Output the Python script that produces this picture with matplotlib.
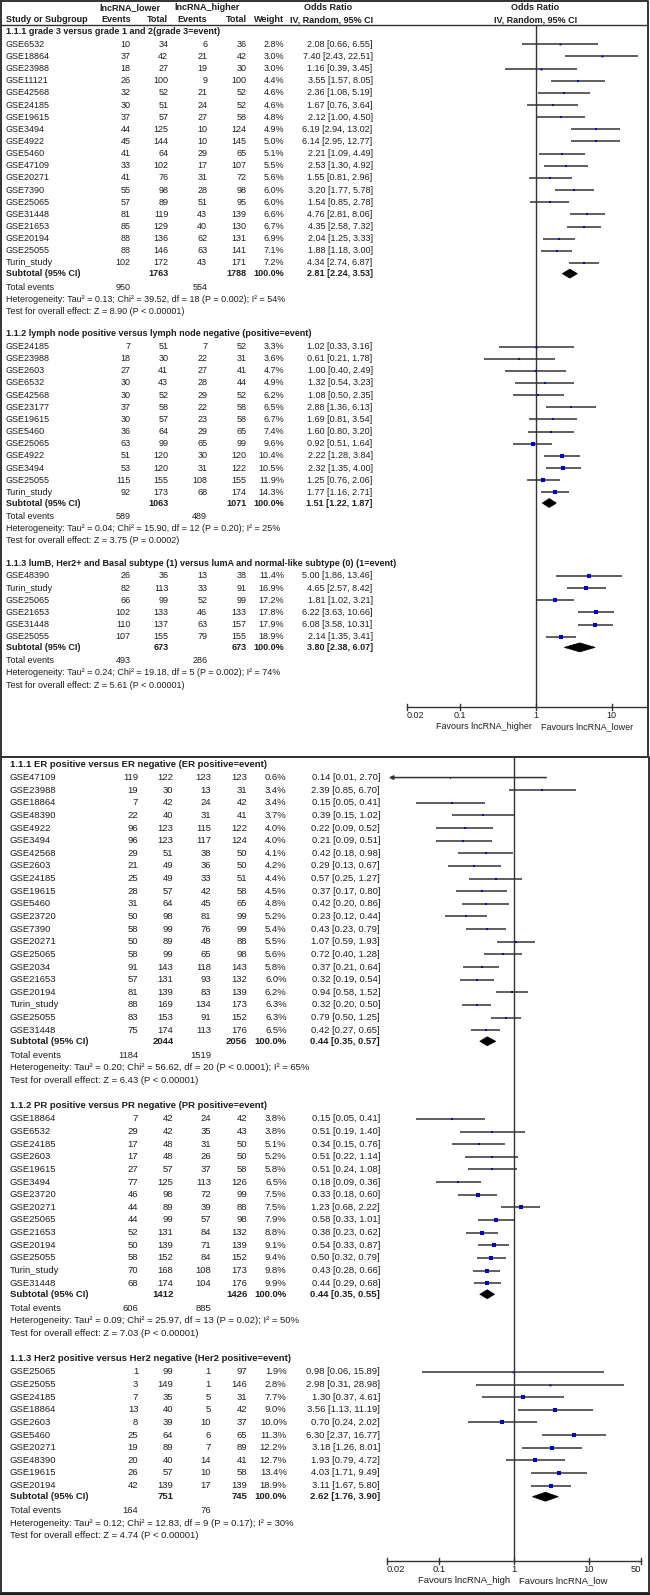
import numpy as np
import matplotlib.pyplot as plt
from matplotlib.patches import Polygon

plt.rcParams['font.family'] = ['Liberation Sans', 'DejaVu Sans']

# ---------------- data: upper panel ----------------
grade_head = "1.1.1 grade 3 versus grade 1 and 2(grade 3=event)"
grade_names = ["GSE6532", "GSE18864", "GSE23988", "GSE11121", "GSE42568", "GSE24185", "GSE19615", "GSE3494",
               "GSE4922", "GSE5460", "GSE47109", "GSE20271", "GSE7390", "GSE25065", "GSE31448", "GSE21653",
               "GSE20194", "GSE25055", "Turin_study"]
grade_ev_low = [10, 37, 18, 26, 32, 30, 37, 44, 45, 41, 33, 41, 55, 57, 81, 85, 88, 88, 102]
grade_tot_low = [34, 42, 27, 100, 52, 51, 57, 125, 144, 64, 102, 76, 98, 89, 119, 129, 136, 146, 172]
grade_ev_high = [6, 21, 19, 9, 21, 24, 27, 10, 10, 29, 17, 31, 28, 51, 43, 40, 62, 63, 43]
grade_tot_high = [36, 42, 30, 100, 52, 52, 58, 124, 145, 65, 107, 72, 98, 95, 139, 130, 131, 141, 171]
grade_weight = [2.8, 3.0, 3.0, 4.4, 4.6, 4.6, 4.8, 4.9, 5.0, 5.1, 5.5, 5.6, 6.0, 6.0, 6.6, 6.7, 6.9, 7.1, 7.2]
grade_or = [2.08, 7.40, 1.16, 3.55, 2.36, 1.67, 2.12, 6.19, 6.14, 2.21, 2.53, 1.55, 3.20, 1.54, 4.76, 4.35, 2.04, 1.88, 4.34]
grade_lo = [0.66, 2.43, 0.39, 1.57, 1.08, 0.76, 1.00, 2.94, 2.95, 1.09, 1.30, 0.81, 1.77, 0.85, 2.81, 2.58, 1.25, 1.18, 2.74]
grade_hi = [6.55, 22.51, 3.45, 8.05, 5.19, 3.64, 4.50, 13.02, 12.77, 4.49, 4.92, 2.96, 5.78, 2.78, 8.06, 7.32, 3.33, 3.00, 6.87]
grade_sub = [1763, 1788, 2.81, 2.24, 3.53]
grade_events = [950, 554]
grade_het = "Heterogeneity: Tau² = 0.13; Chi² = 39.52, df = 18 (P = 0.002); I² = 54%"
grade_test = "Test for overall effect: Z = 8.90 (P < 0.00001)"

lymph_head = "1.1.2 lymph node positive versus lymph node negative (positive=event)"
lymph_names = ["GSE24185", "GSE23988", "GSE2603", "GSE6532", "GSE42568", "GSE23177", "GSE19615", "GSE5460",
               "GSE25065", "GSE4922", "GSE3494", "GSE25055", "Turin_study"]
lymph_ev_low = [7, 18, 27, 30, 30, 37, 30, 36, 63, 51, 53, 115, 92]
lymph_tot_low = [51, 30, 41, 43, 52, 58, 57, 64, 99, 120, 120, 155, 173]
lymph_ev_high = [7, 22, 27, 28, 29, 22, 23, 29, 65, 30, 31, 108, 68]
lymph_tot_high = [52, 31, 41, 44, 52, 58, 58, 65, 99, 120, 122, 155, 174]
lymph_weight = [3.3, 3.6, 4.7, 4.9, 6.2, 6.5, 6.7, 7.4, 9.6, 10.4, 10.5, 11.9, 14.3]
lymph_or = [1.02, 0.61, 1.00, 1.32, 1.08, 2.88, 1.69, 1.60, 0.92, 2.22, 2.32, 1.25, 1.77]
lymph_lo = [0.33, 0.21, 0.40, 0.54, 0.50, 1.36, 0.81, 0.80, 0.51, 1.28, 1.35, 0.76, 1.16]
lymph_hi = [3.16, 1.78, 2.49, 3.23, 2.35, 6.13, 3.54, 3.20, 1.64, 3.84, 4.00, 2.06, 2.71]
lymph_sub = [1063, 1071, 1.51, 1.22, 1.87]
lymph_events = [589, 489]
lymph_het = "Heterogeneity: Tau² = 0.04; Chi² = 15.90, df = 12 (P = 0.20); I² = 25%"
lymph_test = "Test for overall effect: Z = 3.75 (P = 0.0002)"

subtype_head = "1.1.3 lumB, Her2+ and Basal subtype (1) versus lumA and normal-like subtype (0) (1=event)"
subtype_names = ["GSE48390", "Turin_study", "GSE25065", "GSE21653", "GSE31448", "GSE25055"]
subtype_ev_low = [26, 82, 66, 102, 110, 107]
subtype_tot_low = [36, 113, 99, 133, 137, 155]
subtype_ev_high = [13, 33, 52, 46, 63, 79]
subtype_tot_high = [38, 91, 99, 133, 157, 155]
subtype_weight = [11.4, 16.9, 17.2, 17.8, 17.9, 18.9]
subtype_or = [5.00, 4.65, 1.81, 6.22, 6.08, 2.14]
subtype_lo = [1.86, 2.57, 1.02, 3.63, 3.58, 1.35]
subtype_hi = [13.46, 8.42, 3.21, 10.66, 10.31, 3.41]
subtype_sub = [673, 673, 3.80, 2.38, 6.07]
subtype_events = [493, 286]
subtype_het = "Heterogeneity: Tau² = 0.24; Chi² = 19.18, df = 5 (P = 0.002); I² = 74%"
subtype_test = "Test for overall effect: Z = 5.61 (P < 0.00001)"

# ---------------- data: lower panel ----------------
er_head = "1.1.1 ER positive versus ER negative (ER positive=event)"
er_names = ["GSE47109", "GSE23988", "GSE18864", "GSE48390", "GSE4922", "GSE3494", "GSE42568", "GSE2603",
            "GSE24185", "GSE19615", "GSE5460", "GSE23720", "GSE7390", "GSE20271", "GSE25065", "GSE2034",
            "GSE21653", "GSE20194", "Turin_study", "GSE25055", "GSE31448"]
er_ev_low = [119, 19, 7, 22, 96, 96, 29, 21, 25, 28, 31, 50, 58, 50, 58, 91, 57, 81, 88, 83, 75]
er_tot_low = [122, 30, 42, 40, 123, 123, 51, 49, 49, 57, 64, 98, 99, 89, 99, 143, 131, 139, 169, 153, 174]
er_ev_high = [123, 13, 24, 31, 115, 117, 38, 36, 33, 42, 45, 81, 76, 48, 65, 118, 93, 83, 134, 91, 113]
er_tot_high = [123, 31, 42, 41, 122, 124, 50, 50, 51, 58, 65, 99, 99, 88, 98, 143, 132, 139, 173, 152, 176]
er_weight = [0.6, 3.4, 3.4, 3.7, 4.0, 4.0, 4.1, 4.2, 4.4, 4.5, 4.8, 5.2, 5.4, 5.5, 5.6, 5.8, 6.0, 6.2, 6.3, 6.3, 6.5]
er_or = [0.14, 2.39, 0.15, 0.39, 0.22, 0.21, 0.42, 0.29, 0.57, 0.37, 0.42, 0.23, 0.43, 1.07, 0.72, 0.37, 0.32,
         0.94, 0.32, 0.79, 0.42]
er_lo = [0.01, 0.85, 0.05, 0.15, 0.09, 0.09, 0.18, 0.13, 0.25, 0.17, 0.20, 0.12, 0.23, 0.59, 0.40, 0.21, 0.19,
         0.58, 0.20, 0.50, 0.27]
er_hi = [2.70, 6.70, 0.41, 1.02, 0.52, 0.51, 0.98, 0.67, 1.27, 0.80, 0.86, 0.44, 0.79, 1.93, 1.28, 0.64, 0.54,
         1.52, 0.50, 1.25, 0.65]
er_sub = [2044, 2056, 0.44, 0.35, 0.57]
er_events = [1184, 1519]
er_het = "Heterogeneity: Tau² = 0.20; Chi² = 56.62, df = 20 (P < 0.0001); I² = 65%"
er_test = "Test for overall effect: Z = 6.43 (P < 0.00001)"

pr_head = "1.1.2 PR positive versus PR negative (PR positive=event)"
pr_names = ["GSE18864", "GSE6532", "GSE24185", "GSE2603", "GSE19615", "GSE3494", "GSE23720", "GSE20271",
            "GSE25065", "GSE21653", "GSE20194", "GSE25055", "Turin_study", "GSE31448"]
pr_ev_low = [7, 29, 17, 17, 27, 77, 46, 44, 44, 52, 50, 58, 70, 68]
pr_tot_low = [42, 42, 48, 48, 57, 125, 98, 89, 99, 131, 139, 152, 168, 174]
pr_ev_high = [24, 35, 31, 26, 37, 113, 72, 39, 57, 84, 71, 84, 108, 104]
pr_tot_high = [42, 43, 50, 50, 58, 126, 99, 88, 98, 132, 139, 152, 173, 176]
pr_weight = [3.8, 3.8, 5.1, 5.2, 5.8, 6.5, 7.5, 7.5, 7.9, 8.8, 9.1, 9.4, 9.8, 9.9]
pr_or = [0.15, 0.51, 0.34, 0.51, 0.51, 0.18, 0.33, 1.23, 0.58, 0.38, 0.54, 0.50, 0.43, 0.44]
pr_lo = [0.05, 0.19, 0.15, 0.22, 0.24, 0.09, 0.18, 0.68, 0.33, 0.23, 0.33, 0.32, 0.28, 0.29]
pr_hi = [0.41, 1.40, 0.76, 1.14, 1.08, 0.36, 0.60, 2.22, 1.01, 0.62, 0.87, 0.79, 0.66, 0.68]
pr_sub = [1412, 1426, 0.44, 0.35, 0.55]
pr_events = [606, 885]
pr_het = "Heterogeneity: Tau² = 0.09; Chi² = 25.97, df = 13 (P = 0.02); I² = 50%"
pr_test = "Test for overall effect: Z = 7.03 (P < 0.00001)"

her2_head = "1.1.3 Her2 positive versus Her2 negative (Her2 positive=event)"
her2_names = ["GSE25065", "GSE25055", "GSE24185", "GSE18864", "GSE2603", "GSE5460", "GSE20271", "GSE48390",
              "GSE19615", "GSE20194"]
her2_ev_low = [1, 3, 7, 13, 8, 25, 19, 20, 26, 42]
her2_tot_low = [99, 149, 35, 40, 39, 64, 89, 40, 57, 139]
her2_ev_high = [1, 1, 5, 5, 10, 6, 7, 14, 10, 17]
her2_tot_high = [97, 146, 31, 42, 37, 65, 89, 41, 58, 139]
her2_weight = [1.9, 2.8, 7.7, 9.0, 10.0, 11.3, 12.2, 12.7, 13.4, 18.9]
her2_or = [0.98, 2.98, 1.30, 3.56, 0.70, 6.30, 3.18, 1.93, 4.03, 3.11]
her2_lo = [0.06, 0.31, 0.37, 1.13, 0.24, 2.37, 1.26, 0.79, 1.71, 1.67]
her2_hi = [15.89, 28.98, 4.61, 11.19, 2.02, 16.77, 8.01, 4.72, 9.49, 5.80]
her2_sub = [751, 745, 2.62, 1.76, 3.90]
her2_events = [164, 76]
her2_het = "Heterogeneity: Tau² = 0.12; Chi² = 12.83, df = 9 (P = 0.17); I² = 30%"
her2_test = "Test for overall effect: Z = 4.74 (P < 0.00001)"

top_ticks = [0.02, 0.1, 1, 10]
top_tick_labels = ["0.02", "0.1", "1", "10"]
bot_ticks = [0.02, 0.1, 1, 10, 50]
bot_tick_labels = ["0.02", "0.1", "1", "10", "50"]

# ---------------- figure ----------------
W, H = 650, 1595
TXT = '#1e1e1e'
LINE = '#333333'
BLUE = '#0000c8'

fig = plt.figure(figsize=(W / 100, H / 100), dpi=100)
base = fig.add_axes([0, 0, 1, 1])
base.set_xlim(0, W)
base.set_ylim(H, 0)
base.axis('off')


def forest_axes(x0, x1, y0, y1, center, decade):
    # log axis placed on a pixel box: px = center + decade*log10(v)
    ax = fig.add_axes([x0 / W, 1 - y1 / H, (x1 - x0) / W, (y1 - y0) / H])
    ax.set_xscale('log')
    ax.set_xlim(10 ** ((x0 - center) / decade), 10 ** ((x1 - center) / decade))
    ax.set_ylim(y1, y0)
    ax.axis('off')
    return ax


def draw_group(axf, y, s, cols, fs, head, names, ev1, tot1, ev2, tot2, wt, orv, lo, hi, sub, events, het, test,
               xmin=0.02):
    cx = cols
    base.text(cx[0], y, head, fontsize=fs, fontweight='bold', color=TXT, va='center')
    y += 1.05 * s
    for i in range(len(names)):
        base.text(cx[0], y, names[i], fontsize=fs, color=TXT, va='center')
        for j, v in enumerate([ev1[i], tot1[i], ev2[i], tot2[i]]):
            base.text(cx[j + 1], y, str(v), fontsize=fs, color=TXT, va='center', ha='right')
        base.text(cx[5], y, f"{wt[i]:.1f}%", fontsize=fs, color=TXT, va='center', ha='right')
        base.text(cx[6], y, f"{orv[i]:.2f} [{lo[i]:.2f}, {hi[i]:.2f}]", fontsize=fs, color=TXT,
                  va='center', ha='right')
        if lo[i] < xmin:
            axf.annotate('', xy=(xmin * 1.07, y), xytext=(hi[i], y),
                         arrowprops=dict(arrowstyle='-|>', color=LINE, lw=1.1, mutation_scale=6,
                                         shrinkA=0, shrinkB=0))
        else:
            axf.plot([lo[i], hi[i]], [y, y], color=LINE, lw=1.1, solid_capstyle='butt')
        side = 1.1 * np.sqrt(wt[i])
        axf.plot(orv[i], y, 's', ms=side * 0.72, color=BLUE, mew=0)
        if i < len(names) - 1:
            y += s
    y += 0.88 * s
    base.text(cx[0], y, "Subtotal (95% CI)", fontsize=fs, fontweight='bold', color=TXT, va='center')
    base.text(cx[2], y, str(sub[0]), fontsize=fs, fontweight='bold', color=TXT, va='center', ha='right')
    base.text(cx[4], y, str(sub[1]), fontsize=fs, fontweight='bold', color=TXT, va='center', ha='right')
    base.text(cx[5], y, "100.0%", fontsize=fs, fontweight='bold', color=TXT, va='center', ha='right')
    base.text(cx[6], y, f"{sub[2]:.2f} [{sub[3]:.2f}, {sub[4]:.2f}]", fontsize=fs, fontweight='bold',
              color=TXT, va='center', ha='right')
    axf.add_patch(Polygon([(sub[3], y), (sub[2], y - 4.5), (sub[4], y), (sub[2], y + 4.5)],
                          closed=True, facecolor='black', edgecolor='black', lw=0.5))
    y += 1.1 * s
    base.text(cx[0], y, "Total events", fontsize=fs, color=TXT, va='center')
    base.text(cx[1], y, str(events[0]), fontsize=fs, color=TXT, va='center', ha='right')
    base.text(cx[3], y, str(events[1]), fontsize=fs, color=TXT, va='center', ha='right')
    y += s
    base.text(cx[0], y, het, fontsize=fs, color=TXT, va='center')
    y += s
    base.text(cx[0], y, test, fontsize=fs, color=TXT, va='center')
    return y


def draw_axis(axf, y_axis, ticks, labels, left_txt, right_txt, fs, last_at_end):
    axf.plot([0.02, 50], [y_axis, y_axis], color=LINE, lw=1.0)
    for k, (t, lab) in enumerate(zip(ticks, labels)):
        axf.plot([t, t], [y_axis - 3, y_axis + 3], color=LINE, lw=1.0)
        ha = 'center'
        if k == 0:
            ha = 'left'
        elif k == len(ticks) - 1 and last_at_end:
            ha = 'right'
        axf.text(t, y_axis + 8.5, lab, fontsize=fs, color=TXT, ha=ha, va='center')
    axf.annotate(left_txt, xy=(1, y_axis + 19.5), xytext=(-4, 0), textcoords='offset pixels',
                 fontsize=fs, color=TXT, ha='right', va='center')
    axf.annotate(right_txt, xy=(1, y_axis + 19.5), xytext=(5, 0), textcoords='offset pixels',
                 fontsize=fs, color=TXT, ha='left', va='center')


# ---------------- upper panel ----------------
fs_top = 6.5
s_top = 12.15
cols_top = [6, 130.7, 168.3, 207.3, 246.7, 284.3, 372.7]
ax_top = forest_axes(382, 647, 25, 740, 535.7, 76.0)

# header
base.text(129.5, 7.5, "lncRNA_lower", fontsize=fs_top, fontweight='bold', color=TXT, ha='center', va='center')
base.text(207, 7.5, "lncRNA_higher", fontsize=fs_top, fontweight='bold', color=TXT, ha='center', va='center')
base.text(327.7, 7.5, "Odds Ratio", fontsize=fs_top, fontweight='bold', color=TXT, ha='center', va='center')
base.text(535.5, 7.5, "Odds Ratio", fontsize=fs_top, fontweight='bold', color=TXT, ha='center', va='center')
hdr = ["Study or Subgroup", "Events", "Total", "Events", "Total", "Weight", "IV, Random, 95% CI"]
for k, h in enumerate(hdr):
    base.text(cols_top[k], 19.5, h, fontsize=fs_top, fontweight='bold', color=TXT,
              ha='left' if k == 0 else 'right', va='center')
base.text(535.5, 19.5, "IV, Random, 95% CI", fontsize=fs_top, fontweight='bold', color=TXT,
          ha='center', va='center')
base.plot([1, 647], [25, 25], color=LINE, lw=1.0)

ax_top.plot([1, 1], [25, 707], color=LINE, lw=1.0)
y = 31.5
y = draw_group(ax_top, y, s_top, cols_top, fs_top, grade_head, grade_names, grade_ev_low, grade_tot_low,
               grade_ev_high, grade_tot_high, grade_weight, grade_or, grade_lo, grade_hi, grade_sub,
               grade_events, grade_het, grade_test)
y += 1.85 * s_top
y = draw_group(ax_top, y, s_top, cols_top, fs_top, lymph_head, lymph_names, lymph_ev_low, lymph_tot_low,
               lymph_ev_high, lymph_tot_high, lymph_weight, lymph_or, lymph_lo, lymph_hi, lymph_sub,
               lymph_events, lymph_het, lymph_test)
y += 1.85 * s_top
y = draw_group(ax_top, y, s_top, cols_top, fs_top, subtype_head, subtype_names, subtype_ev_low, subtype_tot_low,
               subtype_ev_high, subtype_tot_high, subtype_weight, subtype_or, subtype_lo, subtype_hi, subtype_sub,
               subtype_events, subtype_het, subtype_test)
draw_axis(ax_top, 707, top_ticks, top_tick_labels, "Favours lncRNA_higher", "Favours lncRNA_lower",
          fs_top, False)

# ---------------- lower panel ----------------
fs_bot = 6.8
s_bot = 12.63
cols_bot = [10, 138.3, 173.3, 211, 247.3, 286.7, 380]
ax_bot = forest_axes(382, 648, 757, 1592, 514.0, 75.0)

ax_bot.plot([1, 1], [757, 1561], color=LINE, lw=1.0)
y = 764.3
y = draw_group(ax_bot, y, s_bot, cols_bot, fs_bot, er_head, er_names, er_ev_low, er_tot_low,
               er_ev_high, er_tot_high, er_weight, er_or, er_lo, er_hi, er_sub, er_events, er_het, er_test)
y += 2.0 * s_bot
y = draw_group(ax_bot, y, s_bot, cols_bot, fs_bot, pr_head, pr_names, pr_ev_low, pr_tot_low,
               pr_ev_high, pr_tot_high, pr_weight, pr_or, pr_lo, pr_hi, pr_sub, pr_events, pr_het, pr_test)
y += 2.0 * s_bot
y = draw_group(ax_bot, y, s_bot, cols_bot, fs_bot, her2_head, her2_names, her2_ev_low, her2_tot_low,
               her2_ev_high, her2_tot_high, her2_weight, her2_or, her2_lo, her2_hi, her2_sub,
               her2_events, her2_het, her2_test)
draw_axis(ax_bot, 1561, bot_ticks, bot_tick_labels, "Favours lncRNA_high", "Favours lncRNA_low",
          fs_bot, True)

# ---------------- frames ----------------
base.plot([1, 648, 648, 1, 1], [1, 1, 757, 757, 1], color=LINE, lw=1.4)
base.plot([1, 649, 649, 1, 1], [757, 757, 1593, 1593, 757], color=LINE, lw=1.4)
base.plot([0, 650], [1593.5, 1593.5], color='#222222', lw=2.5)

fig.savefig('out.png', dpi=100)
